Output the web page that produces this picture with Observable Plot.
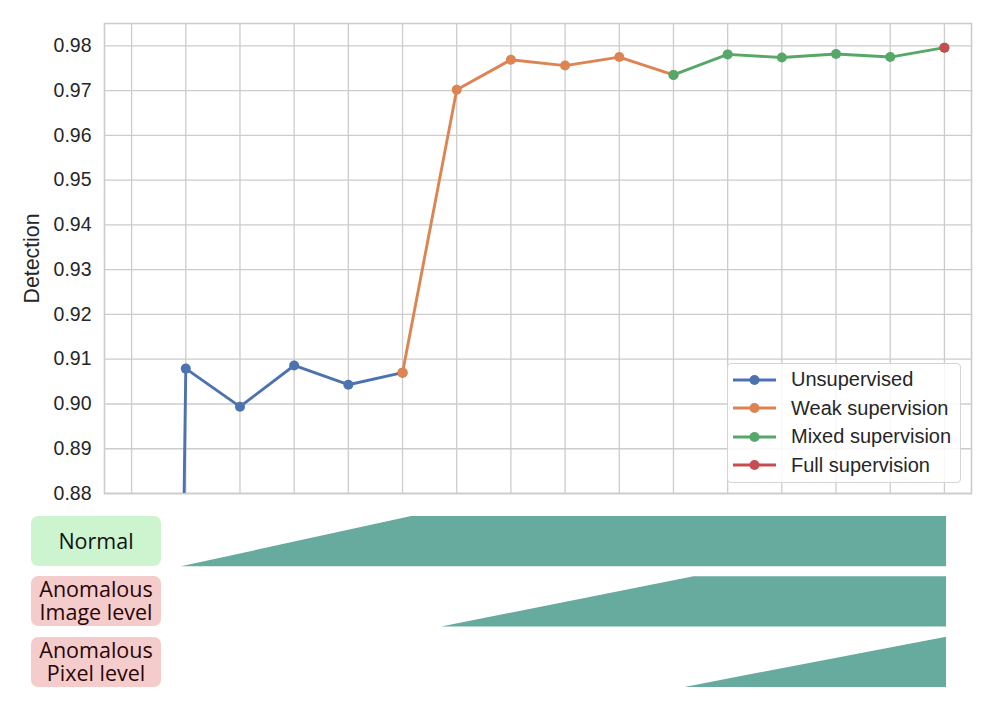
<!DOCTYPE html>
<html><head><meta charset="utf-8">
<script src="https://cdn.jsdelivr.net/npm/d3@7"></script>
<script src="https://cdn.jsdelivr.net/npm/@observablehq/plot@0.6"></script>
<style>
body{margin:0;background:#fff;}
#wrap{position:relative;width:997px;height:716px;overflow:hidden;background:#fff;}
#wrap svg.plotsvg{position:absolute;left:0;}
.legend{position:absolute;left:727px;top:363px;width:234px;height:120px;box-sizing:border-box;border:1px solid #d4d4d4;border-radius:4px;background:rgba(255,255,255,0.85);font-family:"Liberation Sans",Arial,sans-serif;font-size:20px;color:#262626;}
.legend .row{position:absolute;left:0;height:28px;display:flex;align-items:center;}
.legend .row span{position:absolute;left:63px;white-space:nowrap;}
.box{position:absolute;left:31px;width:130px;height:50px;border-radius:7px;text-align:center;font-family:"Open Sans","Noto Sans",sans-serif;font-size:21.5px;}
.box div{position:absolute;left:0;width:130px;white-space:nowrap;line-height:22px;height:22px;}
</style></head><body><div id="wrap"></div>
<script>
// ---- data ----
const xTicks = [0,1,2,3,4,5,6,7,8,9,10,11,12,13,14,15];
const yTicks = [0.88,0.89,0.90,0.91,0.92,0.93,0.94,0.95,0.96,0.97,0.98];
const seriesNames = ["Unsupervised","Weak supervision","Mixed supervision","Full supervision"];
const seriesColors = ["#4c72b0","#dd8452","#55a868","#c44e52"];
const unsupX = [0,1,2,3,4,5];
const unsupY = [0.0,0.9079,0.8994,0.9086,0.9043,0.9070];
const weakX = [5,6,7,8,9,10];
const weakY = [0.9070,0.9702,0.9769,0.9756,0.9775,0.9735];
const mixedX = [10,11,12,13,14,15];
const mixedY = [0.9735,0.9781,0.9774,0.9782,0.9775,0.9796];
const fullX = [15];
const fullY = [0.9796];
const rowLabels = [["Normal"],["Anomalous","Image level"],["Anomalous","Pixel level"]];
const rowColors = ["#ccf5cf","#f4cccc","#f4cccc"];
const rowTextColors = ["#111","#2a0505","#2a0505"];
// teal amount shapes per row: x positions and fill level (0..1)
const normalShapeX = [0.92,5.17,15.04];
const normalShapeH = [0,1,1];
const imageShapeX = [5.72,10.38,15.04];
const imageShapeH = [0,1,1];
const pixelShapeX = [10.21,15.04];
const pixelShapeH = [0,1];

const wrap = document.getElementById("wrap");
const mk = (xs, ys) => xs.map((x,i)=>({x, y: ys[i]}));
const series = [mk(unsupX,unsupY), mk(weakX,weakY), mk(mixedX,mixedY), mk(fullX,fullY)];

const lineMarks = [];
series.forEach((d,i)=>{
  if (d.length > 1) lineMarks.push(Plot.line(d,{x:"x",y:"y",stroke:seriesColors[i],strokeWidth:2.9,clip:true}));
  lineMarks.push(Plot.dot(d,{x:"x",y:"y",fill:seriesColors[i],r:5,stroke:"none",clip:true}));
});

const mainChart = Plot.plot({
  width:997, height:510,
  marginLeft:104, marginRight:26, marginTop:23, marginBottom:17,
  x:{domain:[-0.5,15.5], axis:null},
  y:{domain:[0.88,0.985], axis:null},
  style:{fontFamily:"'Liberation Sans',Arial,sans-serif", fontSize:"19.5px", color:"#262626", background:"transparent"},
  marks:[
    Plot.gridX(xTicks,{stroke:"#cccccc",strokeOpacity:1,strokeWidth:1.3}),
    Plot.gridY(yTicks,{stroke:"#cccccc",strokeOpacity:1,strokeWidth:1.3}),
    Plot.frame({stroke:"#cccccc",strokeWidth:1.6}),
    Plot.axisY(yTicks,{tickSize:0,tickPadding:13,tickFormat:d3.format(".2f"),label:null,fill:"#262626"}),
    Plot.text(["Detection"],{frameAnchor:"left",dx:-72,rotate:-90,fontSize:21.3,fill:"#262626",textAnchor:"middle"}),
    ...lineMarks
  ]
});
mainChart.classList.add("plotsvg");
mainChart.style.top = "0px";
wrap.appendChild(mainChart);

// legend
const leg = document.createElement("div");
leg.className = "legend";
seriesNames.forEach((n,i)=>{
  const r = document.createElement("div");
  r.className = "row";
  r.style.top = (1.5 + i*28.6) + "px";
  r.style.width = "230px";
  r.innerHTML = `<svg width="60" height="28" style="position:absolute;left:0;top:0"><line x1="5" x2="48" y1="14" y2="14" stroke="${seriesColors[i]}" stroke-width="2.9"/><circle cx="26.5" cy="14" r="5" fill="${seriesColors[i]}"/></svg><span>${n}</span>`;
  leg.appendChild(r);
});
wrap.appendChild(leg);

// bottom panel
const shapes = [mk(normalShapeX,normalShapeH), mk(imageShapeX,imageShapeH), mk(pixelShapeX,pixelShapeH)];
const areaData = shapes.flatMap((s,row)=>s.map(p=>({row, x:p.x, y1: row*1.2+1, y2: row*1.2+1-p.y})));
const lowerChart = Plot.plot({
  width:997, height:206,
  marginLeft:104, marginRight:26, marginTop:0, marginBottom:0,
  x:{domain:[-0.5,15.5], axis:null},
  y:{domain:[0,3.4], range:[6,176.9], axis:null},
  style:{background:"transparent"},
  marks:[
    Plot.areaY(areaData,{x:"x",y1:"y1",y2:"y2",z:"row",fill:"#67ab9f",curve:"linear"})
  ]
});
lowerChart.classList.add("plotsvg");
lowerChart.style.top = "510px";
wrap.appendChild(lowerChart);

const boxTops = [516,576.3,636.6];
rowLabels.forEach((lines,i)=>{
  const b = document.createElement("div");
  b.className = "box";
  b.style.top = boxTops[i] + "px";
  b.style.background = rowColors[i];
  b.style.color = rowTextColors[i];
  const startY = lines.length === 1 ? 14 : 2;
  lines.forEach((t,j)=>{
    const l = document.createElement("div");
    l.style.top = (startY + j*23) + "px";
    l.textContent = t;
    b.appendChild(l);
  });
  wrap.appendChild(b);
});
</script></body></html>
